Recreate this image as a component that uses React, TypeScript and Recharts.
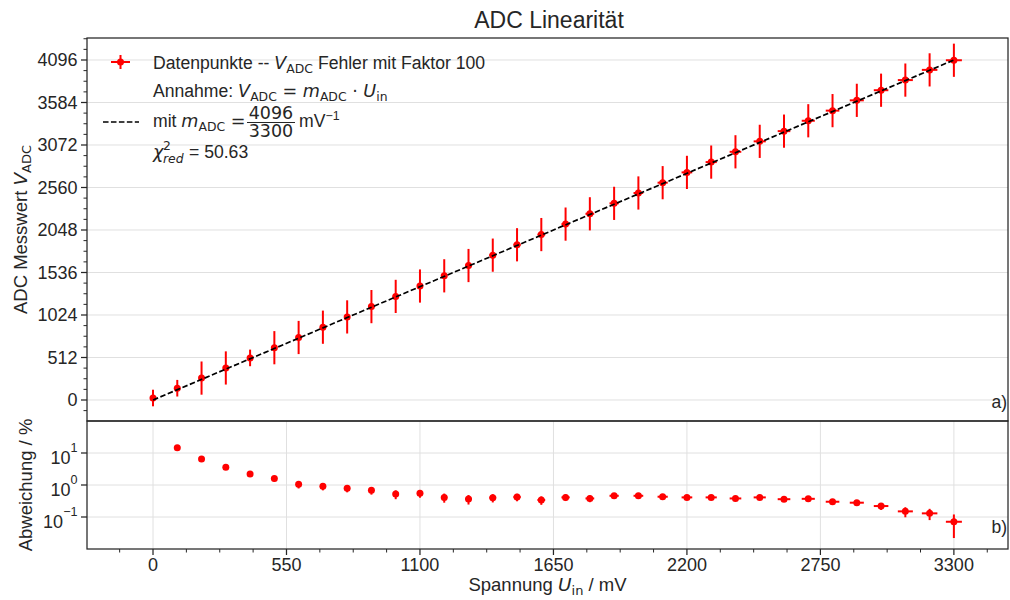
import React from 'react';
import { ComposedChart, Scatter, XAxis, YAxis, CartesianGrid, ErrorBar } from 'recharts';

// Messwerte: Eingangsspannung in mV und ADC-Wert (Fehler mit Faktor 100)
const uIn = [0, 100, 200, 300, 400, 500, 600, 700, 800, 900, 1000, 1100, 1200, 1300, 1400, 1500, 1600,
  1700, 1800, 1900, 2000, 2100, 2200, 2300, 2400, 2500, 2600, 2700, 2800, 2900, 3000, 3100, 3200, 3300];
const uErr = [0, 1, 2, 3, 4, 5, 6, 7, 8, 9, 10, 11, 12, 13, 14, 15, 16,
  17, 18, 19, 20, 21, 22, 23, 24, 25, 26, 27, 28, 29, 30, 31, 32, 33];
const vAdc = [24, 142, 264, 386, 507, 630, 753, 877, 1001, 1125, 1248, 1373, 1496, 1620, 1745, 1870, 1993,
  2119, 2243, 2369, 2494, 2618, 2742, 2866, 2990, 3116, 3239, 3364, 3486, 3610, 3732, 3854, 3977, 4093];
const vErr = [100, 100, 200, 200, 100, 200, 200, 200, 200, 200, 200, 200, 200, 200, 200, 200, 200,
  200, 200, 200, 200, 200, 200, 200, 200, 200, 200, 200, 200, 200, 200, 200, 200, 200];

// Abweichung von der Geraden in %
const devU = [100, 200, 300, 400, 500, 600, 700, 800, 900, 1000, 1100, 1200, 1300, 1400, 1500, 1600,
  1700, 1800, 1900, 2000, 2100, 2200, 2300, 2400, 2500, 2600, 2700, 2800, 2900, 3000, 3100, 3200, 3300];
const devPct = [14.6, 6.5, 3.6, 2.2, 1.6, 1.05, 0.91, 0.79, 0.68, 0.52, 0.55, 0.41, 0.365, 0.4, 0.42, 0.34,
  0.41, 0.38, 0.46, 0.46, 0.43, 0.41, 0.41, 0.38, 0.41, 0.36, 0.37, 0.3, 0.28, 0.22, 0.15, 0.13, 0.071];
const devErr = [0.81, 0.81, 0.54, 0.2, 0.32, 0.27, 0.23, 0.2, 0.18, 0.16, 0.15, 0.13, 0.12, 0.115, 0.11, 0.1,
  0.095, 0.09, 0.085, 0.08, 0.077, 0.073, 0.07, 0.067, 0.064, 0.062, 0.06, 0.058, 0.056, 0.054, 0.052, 0.05, 0.049];

const fitU = [0, 3300];
const fitV = [0, 4096];

const xMajor = [0, 550, 1100, 1650, 2200, 2750, 3300];
const xTicks = [-137.5, 0, 137.5, 275, 412.5, 550, 687.5, 825, 962.5, 1100, 1237.5, 1375, 1512.5, 1650,
  1787.5, 1925, 2062.5, 2200, 2337.5, 2475, 2612.5, 2750, 2887.5, 3025, 3162.5, 3300, 3437.5];
const yMajor = [0, 512, 1024, 1536, 2048, 2560, 3072, 3584, 4096];
const yTicks = [-128, 0, 128, 256, 384, 512, 640, 768, 896, 1024, 1152, 1280, 1408, 1536, 1664, 1792, 1920,
  2048, 2176, 2304, 2432, 2560, 2688, 2816, 2944, 3072, 3200, 3328, 3456, 3584, 3712, 3840, 3968, 4096, 4224, 4352];
const logTicks = [0.1, 1, 10];

const topRows = uIn.map((u, i) => ({ u, v: vAdc[i], ue: uErr[i], ve: vErr[i] }));
const devRows = devU.map((u, i) => ({ u, d: devPct[i], ue: uErr[i + 1], de: devErr[i] }));
const fitRows = fitU.map((u, i) => ({ u, v: fitV[i] }));

const FONT = '"Liberation Sans", Arial, sans-serif';
const MATH = '"DejaVu Sans", sans-serif';
const INK = '#262626';
const RED = '#ff0000';
const TICK_FS = 18;
const LABEL_FS = 18.5;
const LEG_FS = 17.6;
const SUB = 12.4;

const dot = (p: any) => <circle cx={p.cx} cy={p.cy} r={3.5} fill={RED} />;

const TopYTick = ({ x, y, payload }: any) => {
  const major = payload.value % 512 === 0;
  return (
    <g>
      <line x1={x - (major ? 6 : 3.5)} x2={x} y1={y} y2={y} stroke={INK} strokeWidth={major ? 1.25 : 1} />
      {major && (
        <text x={x - 9.5} y={y} dy="0.36em" textAnchor="end" fontSize={TICK_FS} fill={INK} fontFamily={FONT}>
          {payload.value}
        </text>
      )}
    </g>
  );
};

const LogTick = ({ x, y, payload }: any) => {
  const e = Math.round(Math.log10(payload.value));
  const sup = e < 0 ? '\u2212' + -e : String(e);
  return (
    <g>
      <line x1={x - 6} x2={x} y1={y} y2={y} stroke={INK} strokeWidth={1.25} />
      <text x={x - 9.5} y={y + 11} textAnchor="end" fontSize={TICK_FS} fill={INK} fontFamily={FONT}>
        10<tspan dy={-12} fontSize={12.6}>{sup}</tspan>
      </text>
    </g>
  );
};

const BottomXTick = ({ x, y, payload }: any) => {
  const v = payload.value;
  const major = Math.abs(v % 550) < 1e-6;
  return (
    <g>
      <line x1={x} x2={x} y1={y} y2={y + (major ? 6 : 3.5)} stroke={INK} strokeWidth={major ? 1.25 : 1} />
      {major && (
        <text x={x} y={y + 22} textAnchor="middle" fontSize={TICK_FS} fill={INK} fontFamily={FONT}>
          {v}
        </text>
      )}
    </g>
  );
};

const it = (s: string) => <tspan fontFamily={MATH} fontStyle="italic">{s}</tspan>;

const App = () => {
  return (
    <div style={{ position: 'absolute', left: 0, top: 0, width: 1010, height: 600, background: '#fff', fontFamily: FONT }}>
      <div style={{ position: 'absolute', left: 0, top: 0 }}>
        <ComposedChart width={1010} height={421} data={topRows} margin={{ top: 38, right: 2, bottom: 0, left: 27 }}>
          <CartesianGrid stroke="#e0e0e0" strokeWidth={1} horizontalValues={yMajor} verticalValues={xMajor} />
          <XAxis dataKey="u" type="number" domain={[-272, 3523]} allowDataOverflow ticks={xTicks} interval={0}
            height={0} tick={false} tickLine={false} axisLine={false} />
          <YAxis dataKey="v" type="number" domain={[-253, 4361]} allowDataOverflow ticks={yTicks} interval={0}
            width={60} tickSize={0} tickMargin={0} tickLine={false} axisLine={false} tick={(p: any) => <TopYTick {...p} />} />
          <Scatter data={topRows} dataKey="v" shape={dot} isAnimationActive={false}>
            <ErrorBar dataKey="ve" direction="y" width={0} stroke={RED} strokeWidth={2} isAnimationActive={false} />
            <ErrorBar dataKey="ue" direction="x" width={0} stroke={RED} strokeWidth={2} isAnimationActive={false} />
          </Scatter>
          <Scatter data={fitRows} dataKey="v" shape={() => <g />} isAnimationActive={false}
            line={{ stroke: '#000', strokeWidth: 1.7, strokeDasharray: '5.5 2.5' }} />
        </ComposedChart>
      </div>
      <div style={{ position: 'absolute', left: 0, top: 421 }}>
        <ComposedChart width={1010} height={179} data={devRows} margin={{ top: 0, right: 2, bottom: 0, left: 27 }}>
          <CartesianGrid stroke="#e0e0e0" strokeWidth={1} horizontalValues={logTicks} verticalValues={xMajor} />
          <XAxis dataKey="u" type="number" domain={[-272, 3523]} allowDataOverflow ticks={xTicks} interval={0}
            height={51} tickSize={0} tickMargin={0} tickLine={false} axisLine={false} tick={(p: any) => <BottomXTick {...p} />} />
          <YAxis dataKey="d" type="number" scale="log" domain={[0.01, 100]} allowDataOverflow ticks={logTicks} interval={0}
            width={60} tickSize={0} tickMargin={0} tickLine={false} axisLine={false} tick={(p: any) => <LogTick {...p} />} />
          <Scatter data={devRows} dataKey="d" shape={dot} isAnimationActive={false}>
            <ErrorBar dataKey="de" direction="y" width={0} stroke={RED} strokeWidth={2} isAnimationActive={false} />
            <ErrorBar dataKey="ue" direction="x" width={0} stroke={RED} strokeWidth={2} isAnimationActive={false} />
          </Scatter>
        </ComposedChart>
      </div>
      <svg width={1010} height={600} style={{ position: 'absolute', left: 0, top: 0, pointerEvents: 'none' }}
        fontFamily={FONT} fill={INK} fontSize={LEG_FS}>
        <rect x={87} y={38} width={921} height={383} fill="none" stroke={INK} strokeWidth={1.25} />
        <rect x={87} y={421} width={921} height={128} fill="none" stroke={INK} strokeWidth={1.25} />
        <text x={549} y={28} textAnchor="middle" fontSize={23}>ADC Linearität</text>
        <text transform="translate(27,229.5) rotate(-90)" textAnchor="middle" fontSize={LABEL_FS} style={{ whiteSpace: 'pre' }}>
          ADC Messwert {it('V')}<tspan fontFamily={MATH} fontSize={13} dy={3.8}>ADC</tspan>
        </text>
        <text transform="translate(32,485) rotate(-90)" textAnchor="middle" fontSize={LABEL_FS}>Abweichung / %</text>
        <text x={547.5} y={591} textAnchor="middle" fontSize={LABEL_FS} style={{ whiteSpace: 'pre' }}>
          Spannung {it('U')}<tspan fontFamily={MATH} fontSize={13} dy={3.5}>in</tspan><tspan dy={-3.5}> / mV</tspan>
        </text>
        <text x={1007} y={408} textAnchor="end" fontSize={17.5}>a)</text>
        <text x={1007} y={533} textAnchor="end" fontSize={17.5}>b)</text>

        {/* Legende */}
        <line x1={111} x2={130} y1={62} y2={62} stroke={RED} strokeWidth={2} />
        <line x1={120.5} x2={120.5} y1={55} y2={69} stroke={RED} strokeWidth={2} />
        <circle cx={120.5} cy={62} r={3.5} fill={RED} />
        <text x={153} y={69} style={{ whiteSpace: 'pre' }}>
          Datenpunkte -- {it('V')}<tspan fontFamily={MATH} fontSize={SUB} dy={3.5}>ADC</tspan>
          <tspan dy={-3.5}> Fehler mit Faktor 100</tspan>
        </text>
        <text x={153} y={97} style={{ whiteSpace: 'pre' }}>
          Annahme: {it('V')}<tspan fontFamily={MATH} fontSize={SUB} dy={3.5}>ADC</tspan>
          <tspan dy={-3.5} fontFamily={MATH}> = </tspan>{it('m')}
          <tspan fontFamily={MATH} fontSize={SUB} dy={3.5}>ADC</tspan>
          <tspan dy={-3.5} fontFamily={MATH}> · </tspan>{it('U')}
          <tspan fontFamily={MATH} fontSize={SUB} dy={3.5}>in</tspan>
        </text>
        <line x1={103} x2={139} y1={122} y2={122} stroke="#000" strokeWidth={1.5} strokeDasharray="5.55 2.4" />
        <text x={153} y={127} style={{ whiteSpace: 'pre' }}>
          mit {it('m')}<tspan fontFamily={MATH} fontSize={SUB} dy={3.5}>ADC</tspan>
          <tspan dy={-3.5} fontFamily={MATH}> =</tspan>
        </text>
        <text x={271} y={119} textAnchor="middle" fontFamily={MATH} fontSize={17.5}>4096</text>
        <line x1={247} x2={295} y1={122.5} y2={122.5} stroke={INK} strokeWidth={1} />
        <text x={271} y={137} textAnchor="middle" fontFamily={MATH} fontSize={17.5}>3300</text>
        <text x={299} y={127} style={{ whiteSpace: 'pre' }}>
          mV<tspan dy={-7} fontSize={SUB}>{'\u22121'}</tspan>
        </text>
        <text x={153} y={158} fontFamily={MATH} fontStyle="italic">χ</text>
        <text x={163} y={150} fontFamily={MATH} fontSize={SUB}>2</text>
        <text x={163} y={163} fontFamily={MATH} fontSize={SUB} fontStyle="italic">red</text>
        <text x={189} y={158} style={{ whiteSpace: 'pre' }}>= 50.63</text>
      </svg>
    </div>
  );
};

export default App;
